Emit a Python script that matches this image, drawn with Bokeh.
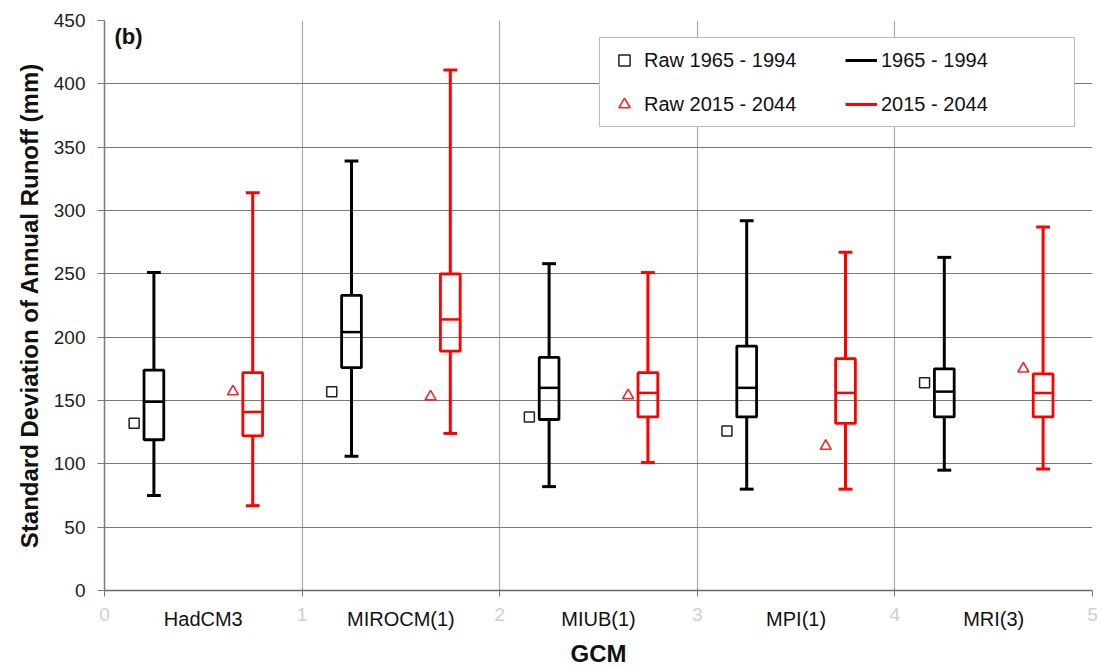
import numpy as np
from bokeh.plotting import figure
from bokeh.models import Range1d, FixedTicker, LinearAxis, Legend, LegendItem, Label
from bokeh.embed import file_html
from bokeh.resources import INLINE

# ---- data ----
gcms = ["HadCM3", "MIROCM(1)", "MIUB(1)", "MPI(1)", "MRI(3)"]
hist_low = [75, 106, 82, 80, 95]
hist_q1 = [119, 176, 135, 137, 137]
hist_med = [149, 204, 160, 160, 157]
hist_q3 = [174, 233, 184, 193, 175]
hist_high = [251, 339, 258, 292, 263]
fut_low = [67, 124, 101, 80, 96]
fut_q1 = [122, 189, 137, 132, 137]
fut_med = [141, 214, 156, 156, 156]
fut_q3 = [172, 250, 172, 183, 171]
fut_high = [314, 411, 251, 267, 287]
raw_hist = [132, 157, 137, 126, 164]
raw_fut = [157, 153, 154, 114, 175]
x_ticks = [0, 1, 2, 3, 4, 5]
y_ticks = [0, 50, 100, 150, 200, 250, 300, 350, 400, 450]

FONT = "Liberation Sans"
BLACK = "#000000"
RED = "#ff0000"

idx = np.arange(len(gcms))
cat_pos = idx + 0.5
x_hist = idx + 0.25
x_fut = idx + 0.75
x_raw_hist = idx + 0.15
x_raw_fut = idx + 0.65
BW = 0.05
CW = 0.035

p = figure(width=1100, height=669, output_backend="svg", toolbar_location=None,
           x_range=Range1d(0, 5), y_range=Range1d(0, 450),
           min_border_left=104, min_border_right=8, min_border_top=20, min_border_bottom=79)
p.outline_line_color = None
p.background_fill_color = "white"

# grids
p.ygrid.ticker = FixedTicker(ticks=y_ticks)
p.xgrid.ticker = FixedTicker(ticks=x_ticks)
p.ygrid.grid_line_color = "#7a7a7a"
p.xgrid.grid_line_color = "#a8a8a8"
p.ygrid.grid_line_width = 1.2
p.xgrid.grid_line_width = 1.2

# y axis
ya = p.yaxis[0]
ya.ticker = FixedTicker(ticks=y_ticks)
ya.axis_label = "Standard Deviation of Annual Runoff (mm)"
ya.axis_label_text_font = FONT
ya.axis_label_text_font_style = "bold"
ya.axis_label_text_font_size = "24px"
ya.axis_label_text_color = "#111111"
ya.axis_label_standoff = 8
ya.major_label_text_font = FONT
ya.major_label_text_font_size = "19px"
ya.major_label_text_color = "#222222"
ya.major_label_standoff = 12
ya.major_tick_out = 7
ya.major_tick_in = 0
ya.minor_tick_line_color = None
ya.axis_line_color = "#7a7a7a"
ya.axis_line_width = 1.5
ya.major_tick_line_color = "#7a7a7a"
ya.major_tick_line_width = 1.2

# x axis with faint integer labels
xa = p.xaxis[0]
xa.ticker = FixedTicker(ticks=x_ticks)
xa.major_label_text_font = FONT
xa.major_label_text_font_size = "19px"
xa.major_label_text_color = "#cfcfcf"
xa.major_label_standoff = 11
xa.major_tick_out = 6
xa.major_tick_in = 0
xa.minor_tick_line_color = None
xa.axis_line_color = "#6a6a6a"
xa.axis_line_width = 1.5
xa.major_tick_line_color = "#7a7a7a"

# category axis
ca = LinearAxis(ticker=FixedTicker(ticks=list(cat_pos)),
                major_label_overrides={float(c): g for c, g in zip(cat_pos, gcms)})
ca.axis_line_color = None
ca.major_tick_line_color = None
ca.minor_tick_line_color = None
ca.major_label_text_font = FONT
ca.major_label_text_font_size = "20px"
ca.major_label_text_color = "#111111"
ca.major_label_standoff = -22
ca.axis_label = "GCM"
ca.axis_label_text_font = FONT
ca.axis_label_text_font_style = "bold"
ca.axis_label_text_font_size = "24px"
ca.axis_label_text_color = "#111111"
ca.axis_label_standoff = 7
p.add_layout(ca, "below")

# ---- boxes ----
def draw_box(xc, low, q1, med, q3, high, color):
    low, q1, med, q3, high = map(np.asarray, (low, q1, med, q3, high))
    wx = np.concatenate([xc, xc])
    wy0 = np.concatenate([low, q3])
    wy1 = np.concatenate([q1, high])
    r = p.segment(x0=wx, y0=wy0, x1=wx, y1=wy1, line_color=color, line_width=3)
    cx = np.concatenate([xc, xc])
    cy = np.concatenate([low, high])
    p.segment(x0=cx - CW, y0=cy, x1=cx + CW, y1=cy, line_color=color, line_width=3)
    p.quad(left=xc - BW, right=xc + BW, bottom=q1, top=q3, fill_alpha=0,
           line_color=color, line_width=2.8)
    p.segment(x0=xc - BW, y0=med, x1=xc + BW, y1=med, line_color=color, line_width=2.5)
    return r

r_hist = draw_box(x_hist, hist_low, hist_q1, hist_med, hist_q3, hist_high, BLACK)
r_fut = draw_box(x_fut, fut_low, fut_q1, fut_med, fut_q3, fut_high, RED)

r_raw_h = p.scatter(x=x_raw_hist, y=raw_hist, marker="square", size=10,
                    fill_color=None, line_color="#222222", line_width=1.5)
r_raw_f = p.scatter(x=x_raw_fut, y=raw_fut, marker="triangle", size=11,
                    fill_color=None, line_color="#ee2a2a", line_width=1.6)

legend = Legend(items=[
    LegendItem(label="Raw 1965 - 1994", renderers=[r_raw_h]),
    LegendItem(label="Raw 2015 - 2044", renderers=[r_raw_f]),
    LegendItem(label="1965 - 1994", renderers=[r_hist]),
    LegendItem(label="2015 - 2044", renderers=[r_fut]),
], ncols=2, location="top_right", margin=17)
legend.label_text_font = FONT
legend.label_text_font_size = "20px"
legend.label_text_color = "#111111"
legend.glyph_width = 32
legend.glyph_height = 28
legend.label_standoff = 4
legend.label_width = 185
legend.label_height = 28
legend.spacing = 16
legend.padding = 8
legend.border_line_color = "#7a7a7a"
legend.border_line_width = 1.2
legend.background_fill_color = "white"
legend.background_fill_alpha = 1
p.add_layout(legend)

p.add_layout(Label(x=0.05, y=447, text="(b)", text_font=FONT, text_font_style="bold",
                   text_font_size="22px", text_baseline="top", text_color="#111111"))

open("out.html", "w").write(file_html(p, INLINE))
